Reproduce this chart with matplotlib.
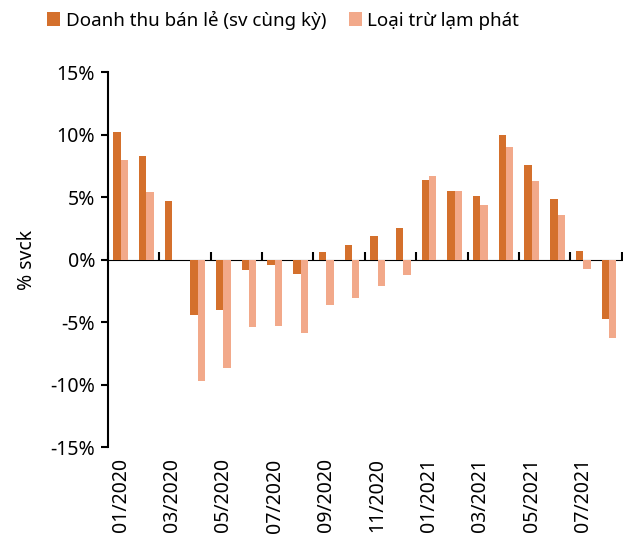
import numpy as np
import matplotlib.pyplot as plt
from matplotlib.ticker import FixedLocator, NullFormatter

plt.rcParams['font.family'] = ['Noto Sans', 'DejaVu Sans']

# data (% yoy)
months = ['01/2020', '02/2020', '03/2020', '04/2020', '05/2020', '06/2020', '07/2020',
          '08/2020', '09/2020', '10/2020', '11/2020', '12/2020', '01/2021', '02/2021',
          '03/2021', '04/2021', '05/2021', '06/2021', '07/2021', '08/2021']
retail = [10.2, 8.3, 4.7, -4.4, -4.0, -0.85, -0.45, -1.15, 0.6, 1.2,
          1.9, 2.55, 6.4, 5.45, 5.1, 10.0, 7.6, 4.85, 0.65, -4.75]
real = [8.0, 5.4, 0.0, -9.7, -8.7, -5.4, -5.3, -5.9, -3.6, -3.1,
        -2.1, -1.25, 6.7, 5.5, 4.4, 9.0, 6.25, 3.55, -0.75, -6.3]

dark = '#D4702C'
light = '#F2A98A'

fig = plt.figure(figsize=(6.23, 5.42), dpi=100)
ax = fig.add_axes([0.173, 0.175, 0.825, 0.692])

x = np.arange(len(months))
w = 0.285
ax.bar(x - w/2, retail, w, color=dark, label='Doanh thu bán lẻ (sv cùng kỳ)')
ax.bar(x + w/2, real, w, color=light, label='Loại trừ lạm phát')

ax.set_xlim(-0.5, len(months) - 0.5)
ax.set_ylim(-15, 15)
ax.set_yticks([-15, -10, -5, 0, 5, 10, 15])
ax.set_yticklabels(['-15%', '-10%', '-5%', '0%', '5%', '10%', '15%'])
ax.tick_params(axis='y', labelsize=14, length=5, width=1.5, pad=4)
ax.spines['left'].set_linewidth(1.5)
for s in ['top', 'right', 'bottom']:
    ax.spines[s].set_visible(False)

# labels at the bottom, every other month
ax.set_xticks(x[::2])
ax.set_xticklabels(months[::2], rotation=90, fontsize=14)
ax.tick_params(axis='x', length=0, pad=8)

# zero line with boundary ticks
sec = ax.secondary_xaxis(0.5)
sec.xaxis.set_major_locator(FixedLocator(list(np.arange(-0.5, len(months), 2))))
sec.xaxis.set_major_formatter(NullFormatter())
sec.tick_params(length=6, width=1.5, direction='out')
sec.spines['bottom'].set_linewidth(1.5)

ax.set_ylabel('% svck', fontsize=14, labelpad=10)

fig.legend(loc='center left', bbox_to_anchor=(0.048, 0.963), ncol=2, frameon=False,
           fontsize=13.5, handlelength=0.7, handleheight=0.7, handletextpad=0.3,
           columnspacing=1.2)

fig.savefig('out.png', dpi=100)
